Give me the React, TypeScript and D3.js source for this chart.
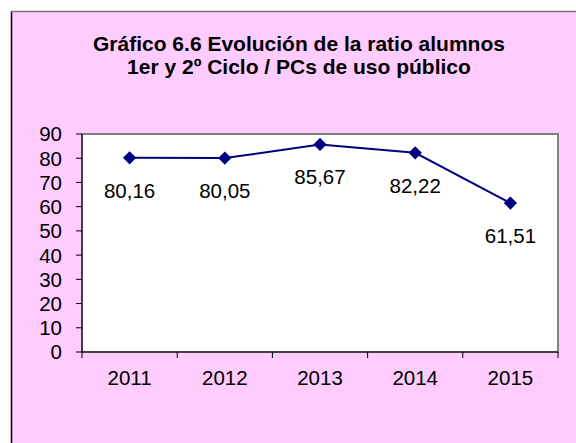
import React from "react";
import * as d3 from "d3";

const years = ["2011", "2012", "2013", "2014", "2015"];
const ratios = [80.16, 80.05, 85.67, 82.22, 61.51];
const ratioLabels = ["80,16", "80,05", "85,67", "82,22", "61,51"];
const yTicks = [0, 10, 20, 30, 40, 50, 60, 70, 80, 90];
const titleLines = [
  "Gráfico 6.6 Evolución de la ratio alumnos",
  "1er y 2º Ciclo / PCs de uso público",
];

const W = 576;
const H = 443;
const font = "'Liberation Sans', Arial, sans-serif";

export default function App() {
  const plot = { left: 82, right: 558, top: 134, bottom: 352 };

  const x = d3
    .scaleBand<string>()
    .domain(years)
    .range([plot.left, plot.right])
    .padding(0);

  const y = d3.scaleLinear().domain([0, 90]).range([plot.bottom, plot.top]);

  const pts = years.map((yr, i) => ({
    x: (x(yr) as number) + x.bandwidth() / 2,
    y: y(ratios[i]),
    label: ratioLabels[i],
  }));

  const line = d3
    .line<{ x: number; y: number }>()
    .x((d) => d.x)
    .y((d) => d.y);

  // square turned 45deg -> even diamond like the spreadsheet marker
  const marker = d3.symbol(d3.symbolSquare, 88)();

  // category boundaries for x ticks
  const xTickPos = years.map((yr) => x(yr) as number).concat([plot.right]);

  return (
    <div style={{ position: "fixed", left: 0, top: 0, width: W, height: H, overflow: "hidden" }}>
      <svg width={W} height={H} style={{ display: "block", fontFamily: font }}>
        <rect x={0} y={0} width={W} height={H} fill="#ffffff" />
        {/* chart frame, runs past the right and bottom edges */}
        <rect x={11} y={11} width={W} height={H} fill="#ffccff" />
        <line x1={11.5} x2={11.5} y1={11} y2={H} stroke="#000" strokeWidth={1.5} />
        <line x1={11} x2={W} y1={11.5} y2={11.5} stroke="#777" strokeWidth={1.5} />

        {titleLines.map((t, i) => (
          <text
            key={i}
            x={299}
            y={51 + i * 23}
            textAnchor="middle"
            fontWeight="bold"
            fontSize={21}
            fill="#000"
          >
            {t}
          </text>
        ))}

        {/* plot area */}
        <rect
          x={plot.left}
          y={plot.top}
          width={plot.right - plot.left}
          height={plot.bottom - plot.top}
          fill="#ffffff"
          stroke="#808080"
          strokeWidth={2}
        />

        {/* y axis */}
        <line x1={plot.left} x2={plot.left} y1={plot.top} y2={plot.bottom} stroke="#000" strokeWidth={1} />
        {yTicks.map((t) => (
          <g key={t} transform={`translate(0,${y(t)})`}>
            <line x1={plot.left - 6} x2={plot.left} stroke="#000" strokeWidth={1} />
            <text x={62} dy="0.36em" textAnchor="end" fontSize={20.5} fill="#000">
              {t}
            </text>
          </g>
        ))}

        {/* x axis */}
        <line x1={plot.left} x2={plot.right} y1={plot.bottom} y2={plot.bottom} stroke="#000" strokeWidth={1} />
        {xTickPos.map((p, i) => (
          <line key={i} x1={p} x2={p} y1={plot.bottom} y2={plot.bottom + 6} stroke="#000" strokeWidth={1} />
        ))}
        {pts.map((p, i) => (
          <text key={years[i]} x={p.x} y={385} textAnchor="middle" fontSize={20.5} fill="#000">
            {years[i]}
          </text>
        ))}

        {/* series */}
        <path d={line(pts) || ""} fill="none" stroke="#000080" strokeWidth={2} />
        {pts.map((p, i) => (
          <path key={i} d={marker || ""} transform={`translate(${p.x},${p.y}) rotate(45)`} fill="#000080" />
        ))}
        {pts.map((p, i) => (
          <text key={"l" + i} x={p.x} y={p.y + 40} textAnchor="middle" fontSize={20.5} fill="#000">
            {p.label}
          </text>
        ))}
      </svg>
    </div>
  );
}
